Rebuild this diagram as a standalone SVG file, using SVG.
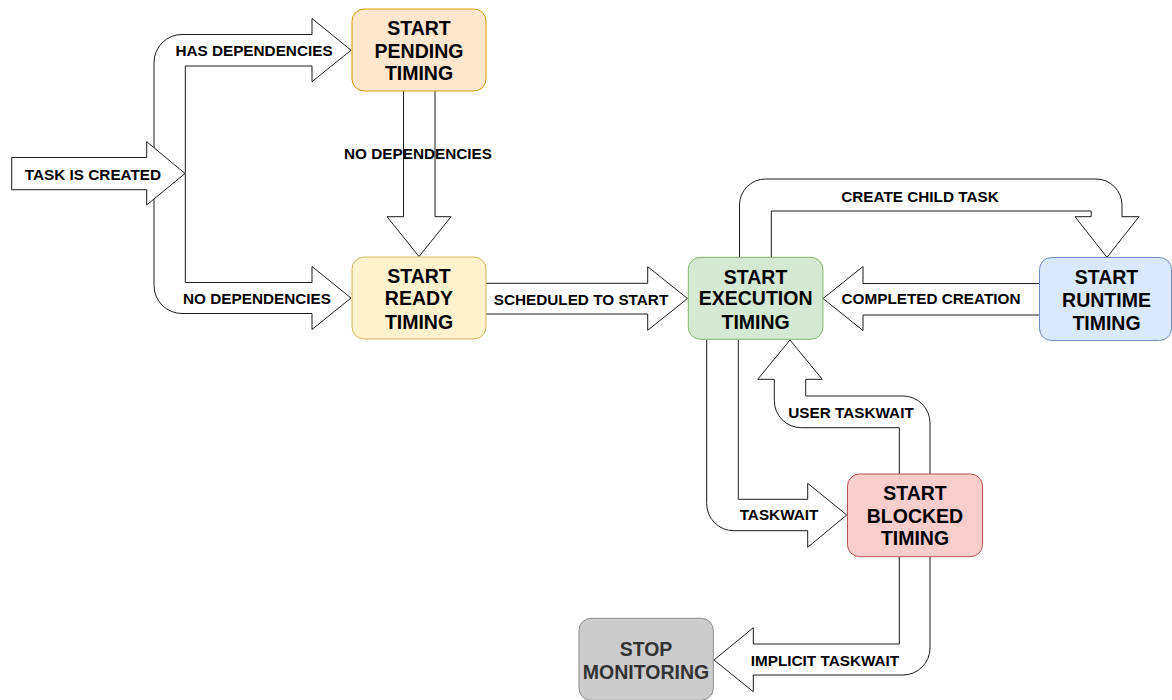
<svg xmlns="http://www.w3.org/2000/svg" width="1172" height="700" viewBox="0 0 1172 700">
  <style>
    .flow { fill: #ffffff; stroke: #1a1a1a; stroke-width: 1; stroke-linejoin: miter; }
    .box { stroke-width: 1; }
    .lbl { font-family: "Liberation Sans", Arial, Helvetica, sans-serif; font-weight: bold; font-size: 15.3px; fill: #000000; text-anchor: middle; }
    .ttl { font-family: "Liberation Sans", Arial, Helvetica, sans-serif; font-weight: bold; font-size: 19.5px; fill: #000000; text-anchor: middle; }
  </style>
  <rect width="1172" height="700" fill="#ffffff"/>

  <!-- flex-arrow connectors between the states -->
  <g id="connectors">
    <!-- created -> pending -->
    <path class="flow" d="M154,173.5 V62.5 A28,28 0 0 1 182,34.5 H312 V18.5 L351,50.2 L312,81.7 V66 H185.3 V173.5"/>
    <!-- created -> ready -->
    <path class="flow" d="M154,173.5 V285.5 A28,28 0 0 0 182,313.5 H312 V329.5 L351,298 L312,266.5 V282.5 H185.3 V173.5"/>
    <!-- pending -> ready -->
    <path class="flow" d="M403.5,91 V216.7 H387 L419,256.5 L451,216.7 H435 V91"/>
    <!-- ready -> execution -->
    <path class="flow" d="M486,283.3 H647.7 V266.7 L687.5,298.5 L647.7,330.3 V314 H486"/>
    <!-- runtime -> execution -->
    <path class="flow" d="M1039.5,283.5 H863 V266.5 L823,298.5 L863,330.5 V315 H1039.5"/>
    <!-- execution -> runtime -->
    <path class="flow" d="M739.5,257 V205 A26,26 0 0 1 765.5,179 H1096 A26,26 0 0 1 1122,205 V216.7 H1139 L1107,257.3 L1075,216.7 H1091.2 V211 H771.3 V257"/>
    <!-- execution -> blocked -->
    <path class="flow" d="M706.7,340 V503.5 A27,27 0 0 0 733.7,530.7 H807.7 V547.3 L846.7,515 L807.7,483.3 V499.3 H738.3 V340"/>
    <!-- blocked -> execution -->
    <path class="flow" d="M899.3,474 V427.7 H801.3 A27,27 0 0 1 774.3,400.7 V379.3 H757.7 L790,340 L822.3,379.3 H805.7 V396 H903 A27,27 0 0 1 930,423 V474"/>
    <!-- blocked -> stop -->
    <path class="flow" d="M899.3,556.7 V644 H753.3 V627.7 L714,660 L753.3,691.7 V675 H903 A27,27 0 0 0 930,648 V556.7"/>

    <text class="lbl" x="254" y="56">HAS DEPENDENCIES</text>
    <text class="lbl" x="257" y="303.5">NO DEPENDENCIES</text>
    <text class="lbl" x="418" y="158.7">NO DEPENDENCIES</text>
    <text class="lbl" x="581" y="304.5">SCHEDULED TO START</text>
    <text class="lbl" x="931" y="303.5">COMPLETED CREATION</text>
    <text class="lbl" x="920" y="202">CREATE CHILD TASK</text>
    <text class="lbl" x="779" y="520.3">TASKWAIT</text>
    <text class="lbl" x="851" y="417.6">USER TASKWAIT</text>
    <text class="lbl" x="825" y="666">IMPLICIT TASKWAIT</text>
  </g>

  <!-- entry arrow -->
  <g id="task-created">
    <path class="flow" d="M11.7,157.5 H146.7 V141.7 L185,173.5 L146.7,205 V189.7 H11.7 Z"/>
    <text class="lbl" x="93" y="179.5">TASK IS CREATED</text>
  </g>

  <g id="pending">
    <rect class="box" x="352" y="9" width="134" height="82" rx="12" fill="#ffe6cc" stroke="#d79b00"/>
    <text class="ttl" x="419" y="35.3">START</text>
    <text class="ttl" x="419" y="57.7">PENDING</text>
    <text class="ttl" x="419" y="80.3">TIMING</text>
  </g>

  <g id="ready">
    <rect class="box" x="352" y="257" width="134" height="82" rx="12" fill="#fff2cc" stroke="#d6b656"/>
    <text class="ttl" x="419" y="283">START</text>
    <text class="ttl" x="419" y="305.3">READY</text>
    <text class="ttl" x="419" y="328.7">TIMING</text>
  </g>

  <g id="execution">
    <rect class="box" x="688.3" y="257.3" width="134.6" height="82" rx="12" fill="#d5e8d4" stroke="#82b366"/>
    <text class="ttl" x="755.6" y="283.7">START</text>
    <text class="ttl" x="755.6" y="305.3">EXECUTION</text>
    <text class="ttl" x="755.6" y="328.7">TIMING</text>
  </g>

  <g id="runtime">
    <rect class="box" x="1039.5" y="257.5" width="132" height="83" rx="12" fill="#dae8fc" stroke="#6c8ebf"/>
    <text class="ttl" x="1106.5" y="284">START</text>
    <text class="ttl" x="1106.5" y="306.5">RUNTIME</text>
    <text class="ttl" x="1106.5" y="329.5">TIMING</text>
  </g>

  <g id="blocked">
    <rect class="box" x="847.5" y="474" width="135" height="82.7" rx="12" fill="#f8cecc" stroke="#b85450"/>
    <text class="ttl" x="915" y="500.3">START</text>
    <text class="ttl" x="915" y="522.7">BLOCKED</text>
    <text class="ttl" x="915" y="545.3">TIMING</text>
  </g>

  <g id="stop">
    <rect class="box" x="579" y="618.3" width="134.3" height="82" rx="12" fill="#cccccc" stroke="#8a8a8a"/>
    <text class="ttl" x="646" y="656.3" style="fill:#333333">STOP</text>
    <text class="ttl" x="646" y="678.7" style="fill:#333333">MONITORING</text>
  </g>
</svg>
